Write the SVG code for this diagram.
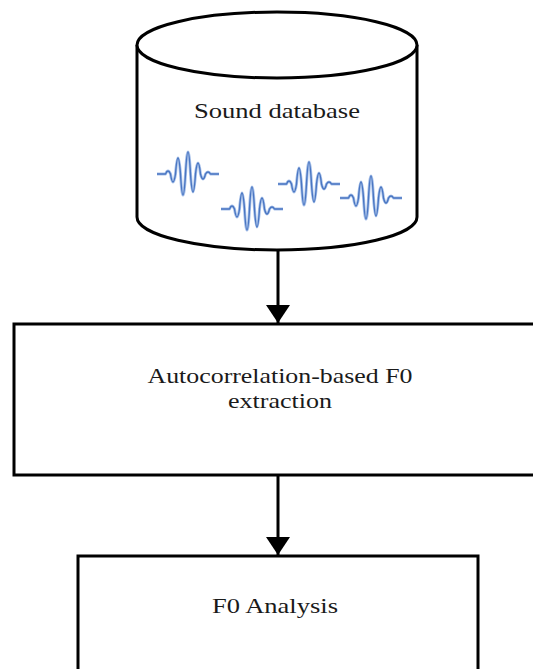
<svg xmlns="http://www.w3.org/2000/svg" width="533" height="669" viewBox="0 0 533 669">
<style>
.shape{fill:#fff;stroke:#000;stroke-width:3}
.lbl{font-family:"Liberation Serif","Times New Roman",serif;font-size:22px;fill:#1a1a1a;text-anchor:middle}
.wave-glow{fill:none;stroke:#a9c2ea;stroke-width:3;stroke-linejoin:round}
.wave{fill:none;stroke:#4a76c2;stroke-width:1.4;stroke-linejoin:round}
.conn{stroke:#000;stroke-width:3;fill:none}
</style>
<defs>
<marker id="arr" markerWidth="6" markerHeight="8" refX="6" refY="4" orient="auto" markerUnits="strokeWidth">
<path d="M0,0 L6,4 L0,8 Z" fill="#000"/>
</marker>
<path id="pk" d="M-31,0 L-22.5,0 Q-20,-6 -17.5,0 Q-15,16 -12.5,0 Q-10,-32 -7.5,0 Q-5,42 -2.5,0 Q0,-44 2.5,0 Q5,36 7.5,0 Q10,-22 12.5,0 Q15,10 17.5,0 Q20,-4 22.5,0 L31,0"/>
</defs>
<rect width="533" height="669" fill="#fff"/>
<g id="sound-database">
<path class="shape" d="M137,45 L137,217 A140,33 0 0 0 417,217 L417,45"/>
<ellipse class="shape" cx="277" cy="45" rx="140" ry="33"/>
<text class="lbl" x="277" y="118" textLength="166" lengthAdjust="spacingAndGlyphs">Sound database</text>
<g>
<use href="#pk" class="wave-glow" transform="translate(188,174)"/>
<use href="#pk" class="wave" transform="translate(188,174)"/>
<use href="#pk" class="wave-glow" transform="translate(252,209)"/>
<use href="#pk" class="wave" transform="translate(252,209)"/>
<use href="#pk" class="wave-glow" transform="translate(309,184)"/>
<use href="#pk" class="wave" transform="translate(309,184)"/>
<use href="#pk" class="wave-glow" transform="translate(371,198)"/>
<use href="#pk" class="wave" transform="translate(371,198)"/>
</g>
</g>
<g id="f0-extraction">
<rect class="shape" x="14" y="324" width="540" height="151"/>
<text class="lbl" x="280" y="383" textLength="265" lengthAdjust="spacingAndGlyphs">Autocorrelation-based F0</text>
<text class="lbl" x="280" y="408" textLength="104" lengthAdjust="spacingAndGlyphs">extraction</text>
</g>
<g id="f0-analysis">
<rect class="shape" x="78" y="556" width="400" height="130"/>
<text class="lbl" x="275" y="613" textLength="126" lengthAdjust="spacingAndGlyphs">F0 Analysis</text>
</g>
<g id="connectors">
<line class="conn" x1="278" y1="250" x2="278" y2="323" marker-end="url(#arr)"/>
<line class="conn" x1="278" y1="476" x2="278" y2="555" marker-end="url(#arr)"/>
</g>
</svg>
